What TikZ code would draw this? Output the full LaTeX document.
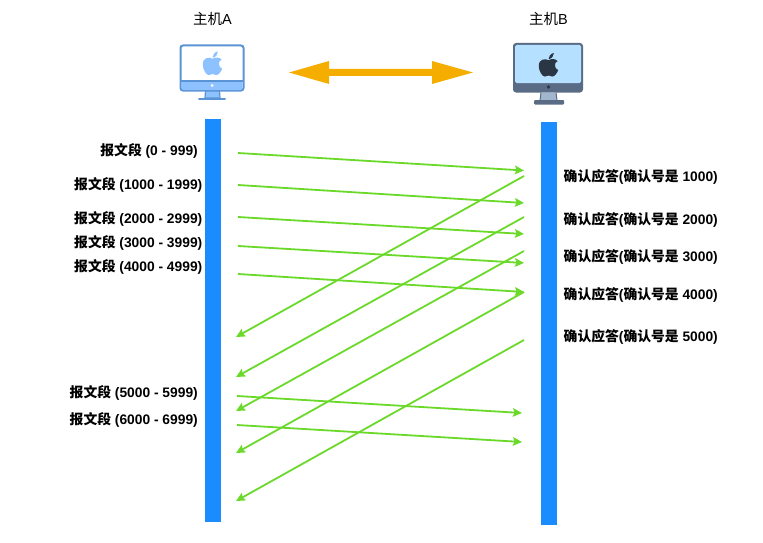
\documentclass[tikz,border=0pt]{standalone}
\usepackage{fontspec}
\usetikzlibrary{arrows.meta}
\setmainfont{Liberation Sans}
\newfontfamily\cjk{Noto Sans CJK SC}
\definecolor{barblue}{HTML}{1A8CFF}
\definecolor{msgreen}{HTML}{6AD92A}
\definecolor{duplex}{HTML}{F5AE00}
\definecolor{frameA}{HTML}{5B94D6}
\definecolor{fillA}{HTML}{8DC1FF}
\definecolor{frameB}{HTML}{5A6B85}
\definecolor{fillB}{HTML}{B5E0FF}
\definecolor{standB}{HTML}{A3B6D0}
\definecolor{logoB}{HTML}{2B3644}
\newcommand{\applelogo}[3]{%
  \begin{scope}[shift={(#1,#2)}, xscale=1.08, yscale=0.96]
    \fill[#3] (0,-5) .. controls (-3,-7) and (-9,-6.5) .. (-9,1)
      .. controls (-9,6) and (-6,12) .. (-3.5,12)
      .. controls (-2,12) and (-1.5,11) .. (0,11)
      .. controls (1.5,11) and (2,12) .. (3.5,12)
      .. controls (6,12) and (8,8) .. (9,5.5)
      .. controls (5,3.5) and (5,-3) .. (8.5,-4)
      .. controls (6.5,-6.5) and (3,-7) .. (0,-5) -- cycle;
    \fill[#3] (0,-6) .. controls (0,-9) and (2,-12) .. (5,-12.5)
      .. controls (5,-9.5) and (3,-6.5) .. (0,-6) -- cycle;
  \end{scope}
}
\tikzset{
  segment/.style={font=\fontsize{13.8}{16}\selectfont\bfseries, anchor=east, inner sep=0pt},
  ack/.style={font=\fontsize{13.8}{16}\selectfont\bfseries, anchor=west, inner sep=0pt},
  host/.style={font=\fontsize{14.5}{16}\selectfont, inner sep=0pt},
  msg/.style={-{Stealth[length=9pt, width=8.5pt, inset=1.5pt]}, msgreen, line width=1.8pt},
  timeline/.style={fill=barblue, draw=none},
}
\begin{document}
\begin{tikzpicture}[x=1pt, y=-1pt]
    \useasboundingbox (0,0) rectangle (763,543);

    % 1. HOST A
    \node[host] (hostA_label) at (212.5,19) {{\cjk 主机}A};
    \draw[frameA, line width=2pt, fill=white, rounded corners=2.5pt] (180.5,45.5) rectangle (243.5,90.5);
    \fill[fillA, rounded corners=2pt] (181.5,81) rectangle (242.5,90);
    \draw[frameA, line width=1.5pt] (181,81) -- (243,81);
    \fill[white] (212,85.5) circle (1.5);
    \draw[frameA, fill=fillA, line width=1.2pt] (205.5,91) -- (205,98) -- (220,98) -- (219.5,91) -- cycle;
    \draw[frameA, line width=2pt, line cap=round] (199,98.5) -- (225,98.5);
    \applelogo{212.5}{63.5}{fillA}

    % 2. HOST B
    \node[host] (hostB_label) at (548.5,19) {{\cjk 主机}B};
    \fill[frameB, rounded corners=3pt] (513,43) rectangle (583,92.5);
    \fill[fillB, rounded corners=1.5pt] (515,45) rectangle (581,83);
    \fill[logoB] (548.5,87) circle (1.8);
    \fill[standB] (541,92.5) -- (540,100.5) -- (557,100.5) -- (556,92.5) -- cycle;
    \draw[frameB, line width=1pt] (541,92.5) -- (540,100.5) (556,92.5) -- (557,100.5);
    \fill[frameB, rounded corners=1pt] (534,100) rectangle (564,104.5);
    \applelogo{548.5}{65}{logoB}

    % 3. DUPLEX ARROW
    \fill[duplex] (289,72.5) -- (329,61) -- (329,69) -- (432,69) -- (432,61) -- (473,72.5)
      -- (432,84) -- (432,76) -- (329,76) -- (329,84) -- cycle;

    % 4. TIMELINES
    \fill[timeline] (205,119) rectangle (221,522);
    \fill[timeline] (541,122) rectangle (557,525);

    % 5. SEGMENTS (A -> B)
    \coordinate (a1) at (238,153);   \coordinate (b1) at (524,170.5);
    \coordinate (a2) at (238,185);   \coordinate (b2) at (524,203);
    \coordinate (a3) at (238,217);   \coordinate (b3) at (524,234);
    \coordinate (a4) at (238,246);   \coordinate (b4) at (524,263);
    \coordinate (a5) at (238,274);   \coordinate (b5) at (524,292);
    \coordinate (a6) at (237,396);   \coordinate (b6) at (522,413);
    \coordinate (a7) at (237,425);   \coordinate (b7) at (522,442);
    \draw[msg] (a1) -- (b1);
    \draw[msg] (a2) -- (b2);
    \draw[msg] (a3) -- (b3);
    \draw[msg] (a4) -- (b4);
    \draw[msg] (a5) -- (b5);
    \draw[msg] (a6) -- (b6);
    \draw[msg] (a7) -- (b7);

    % 6. ACKS (B -> A)
    \coordinate (ackb1) at (524,176);   \coordinate (acka1) at (236,337);
    \coordinate (ackb2) at (524,217);   \coordinate (acka2) at (236,377);
    \coordinate (ackb3) at (524,251);   \coordinate (acka3) at (236,411);
    \coordinate (ackb4) at (524,292);   \coordinate (acka4) at (236,453);
    \coordinate (ackb5) at (524,340);   \coordinate (acka5) at (236,501);
    \draw[msg] (ackb1) -- (acka1);
    \draw[msg] (ackb2) -- (acka2);
    \draw[msg] (ackb3) -- (acka3);
    \draw[msg] (ackb4) -- (acka4);
    \draw[msg] (ackb5) -- (acka5);

    % 7. LABELS
    \node[segment] (seg1) at (198,151) {{\cjk 报文段} (0 - 999)};
    \node[segment] (seg2) at (202.5,185) {{\cjk 报文段} (1000 - 1999)};
    \node[segment] (seg3) at (202.5,219) {{\cjk 报文段} (2000 - 2999)};
    \node[segment] (seg4) at (202.5,243) {{\cjk 报文段} (3000 - 3999)};
    \node[segment] (seg5) at (202.5,267) {{\cjk 报文段} (4000 - 4999)};
    \node[segment] (seg6) at (198,393) {{\cjk 报文段} (5000 - 5999)};
    \node[segment] (seg7) at (198,420) {{\cjk 报文段} (6000 - 6999)};
    \node[ack] (ack1) at (563.5,176.5) {{\cjk 确认应答}({\cjk 确认号是} 1000)};
    \node[ack] (ack2) at (563.5,219.5) {{\cjk 确认应答}({\cjk 确认号是} 2000)};
    \node[ack] (ack3) at (563.5,257) {{\cjk 确认应答}({\cjk 确认号是} 3000)};
    \node[ack] (ack4) at (563.5,294.5) {{\cjk 确认应答}({\cjk 确认号是} 4000)};
    \node[ack] (ack5) at (563.5,337) {{\cjk 确认应答}({\cjk 确认号是} 5000)};

\end{tikzpicture}
\end{document}
